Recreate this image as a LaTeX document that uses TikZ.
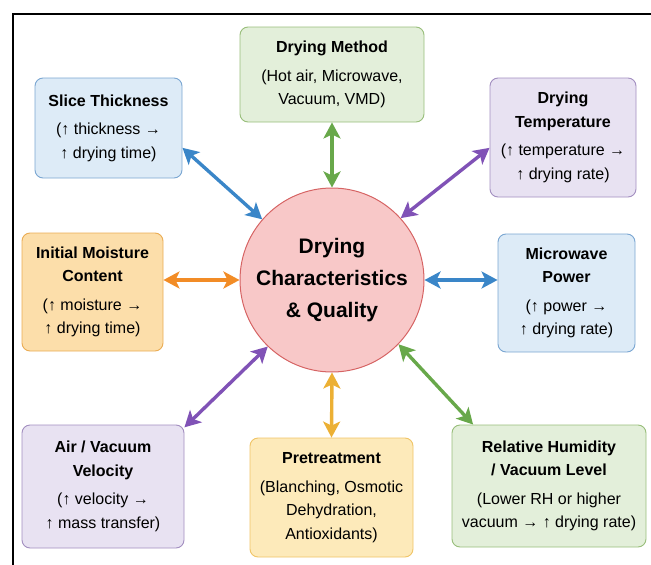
\documentclass[tikz,border=0pt]{standalone}
\usepackage{fontspec}
\setmainfont{Liberation Sans}
\usepackage{tikz}
\usetikzlibrary{arrows.meta}

\definecolor{bluefill}{RGB}{221,235,247}
\definecolor{blueline}{RGB}{122,166,210}
\definecolor{bluearr}{RGB}{58,134,200}
\definecolor{greenfill}{RGB}{227,239,218}
\definecolor{greenline}{RGB}{152,190,122}
\definecolor{greenarr}{RGB}{104,168,74}
\definecolor{purplefill}{RGB}{232,226,242}
\definecolor{purpleline}{RGB}{162,142,192}
\definecolor{purplearr}{RGB}{128,82,182}
\definecolor{orangefill}{RGB}{252,222,170}
\definecolor{orangeline}{RGB}{234,172,84}
\definecolor{orangearr}{RGB}{242,140,38}
\definecolor{yellowfill}{RGB}{253,234,186}
\definecolor{yellowline}{RGB}{240,196,102}
\definecolor{yellowarr}{RGB}{236,176,52}
\definecolor{redfill}{RGB}{248,200,200}
\definecolor{redline}{RGB}{214,100,100}

\begin{document}
\begin{tikzpicture}[x=1pt,y=-1pt,
	factor/.style={draw,rounded corners=8pt,line width=0.9pt,align=center,inner sep=0pt,font=\fontsize{16}{23.5}\selectfont},
	link/.style={{Stealth[length=16pt,width=17pt,inset=4pt]}-{Stealth[length=16pt,width=17pt,inset=4pt]},line width=3.4pt}]
		\useasboundingbox (0,0) rectangle (651,565);
		\draw[line width=1.2pt] (13,565) -- (13,14) -- (651,14);
		\node[circle,draw=redline,fill=redfill,line width=1pt,minimum size=184pt,align=center,font=\bfseries\fontsize{21}{32}\selectfont] (dc) at (332,280) {Drying\\Characteristics\\\& Quality};
		\node[factor,draw=greenline,fill=greenfill,minimum width=184pt,minimum height=95pt] (meth) at (332,74.5) {\textbf{Drying Method}\\[5pt](Hot air, Microwave,\\Vacuum, VMD)};
		\node[factor,draw=blueline,fill=bluefill,minimum width=147pt,minimum height=100pt] (slice) at (108.5,128) {\textbf{Slice Thickness}\\[5pt](↑ thickness →\\↑ drying time)};
		\node[factor,draw=purpleline,fill=purplefill,minimum width=146pt,minimum height=119pt] (temp) at (563,137.5) {\textbf{Drying}\\\textbf{Temperature}\\[5pt](↑ temperature →\\↑ drying rate)};
		\node[factor,draw=orangeline,fill=orangefill,minimum width=141pt,minimum height=118pt] (moist) at (92.5,292) {\textbf{Initial Moisture}\\\textbf{Content}\\[5pt](↑ moisture →\\↑ drying time)};
		\node[factor,draw=blueline,fill=bluefill,minimum width=137pt,minimum height=118pt] (micro) at (566.5,293) {\textbf{Microwave}\\\textbf{Power}\\[5pt](↑ power →\\↑ drying rate)};
		\node[factor,draw=purpleline,fill=purplefill,minimum width=162pt,minimum height=123pt] (vel) at (103,486.5) {\textbf{Air / Vacuum}\\\textbf{Velocity}\\[5pt](↑ velocity →\\↑ mass transfer)};
		\node[factor,draw=yellowline,fill=yellowfill,minimum width=163pt,minimum height=119pt] (pre) at (331.5,497.5) {\textbf{Pretreatment}\\[5pt](Blanching, Osmotic\\Dehydration,\\Antioxidants)};
		\node[factor,draw=greenline,fill=greenfill,minimum width=194pt,minimum height=122pt] (hum) at (549,486) {\textbf{Relative Humidity}\\\textbf{/ Vacuum Level}\\[5pt](Lower RH or higher\\vacuum → ↑ drying rate)};
		\draw[link,greenarr] (meth.south) -- (dc.north);
		\draw[link,bluearr] (slice.-15) -- (dc.139);
		\draw[link,purplearr] (temp.188) -- (dc.42);
		\draw[link,orangearr] (dc.west -| moist.east) -- (dc.west);
		\draw[link,bluearr] (dc.east) -- (dc.east -| micro.west);
		\draw[link,purplearr] (vel.36) -- (dc.226);
		\draw[link,yellowarr] (dc.south) -- (pre.north);
		\draw[link,greenarr] (dc.-44) -- (hum.141);
\end{tikzpicture}
\end{document}
